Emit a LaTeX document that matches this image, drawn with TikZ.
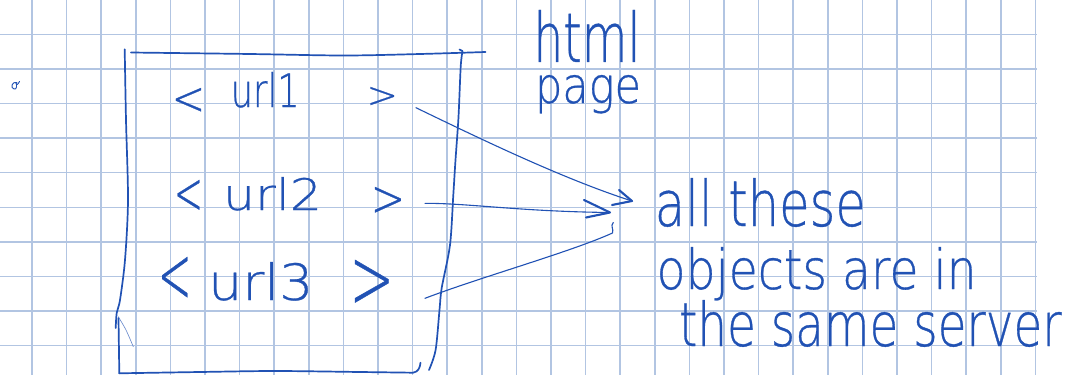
\documentclass[tikz,border=0pt]{standalone}
\usepackage{fontspec}
\usepackage{graphicx}
\usetikzlibrary{calc}
\newfontfamily\handfont[FakeBold=0.6]{DejaVu Sans ExtraLight}
\definecolor{ink}{RGB}{33,82,180}
\definecolor{gridblue}{RGB}{178,197,226}
% text squeezed to a given width and height (pt), in the pen colour
\newcommand{\handtext}[3]{\resizebox{#1pt}{#2pt}{\handfont #3}}

\begin{document}
\begin{tikzpicture}[x=1pt,y=-1pt,
  gridline/.style={draw=gridblue,line width=1.5pt},
  pen/.style={draw=ink,line width=1.7pt,line cap=round,line join=round},
  thinpen/.style={draw=ink,line width=1.1pt,line cap=round,line join=round},
  headpen/.style={draw=ink,line width=2.1pt,line cap=round,line join=round},
  word/.style={inner sep=0pt,outer sep=0pt,anchor=base west,text=ink}]

% paper
\fill[white] (0,0) rectangle (1072,375);
\useasboundingbox (0,0) rectangle (1072,375);

% squared grid
\foreach \i in {0,...,29}
  \draw[gridline] ({32+34.6*\i},0) -- ({32+34.6*\i},375);
\foreach \j in {0,...,9}
  \draw[gridline] (0,{34.3+34.6*\j}) -- (1037,{34.3+34.6*\j});

% stray pen mark
\draw[thinpen,line width=0.9pt] (17,82.5) .. controls (12,81) and (10,88) .. (14,89)
  .. controls (17,90) and (17,85) .. (16,83) .. controls (17,86) and (18,84) .. (19.5,81.5);

% the page frame
\draw[pen] plot[smooth] coordinates {(131,52.5) (250,54) (344,55.5) (420,54) (485.5,52)};
\draw[pen] (459.5,49.5) -- (462.5,51)
  plot[smooth] coordinates {(462.5,51) (460.7,66.7) (458.5,117) (455.5,160) (453.3,195)
    (450,245) (441.7,288) (439.5,310) (435.6,350) (429,370)};
\draw[pen] plot[smooth] coordinates {(124.7,49.3) (126,120) (128,200) (125,260)
  (120,300) (116.7,313) (115.7,328)};
\draw[pen] (118.5,318) -- (119.3,373.3);
\draw[thinpen,line width=0.6pt,draw=ink!70] plot[smooth] coordinates {(118.3,316.7) (126,330) (133.3,346.7)};
\draw[pen] plot[smooth] coordinates {(119.3,373.3) (200,372) (275,371) (360,372) (413,372.7)}
  .. controls (418,372) and (420,368) .. (420.5,362.7);

% the three links
\node[word] (lt1) at (171.7,114.4) {\handtext{33.5}{26.4}{<}};
\node[word] (u1)  at (230.7,107)   {\handtext{69}{35}{url1}};
\node[word] (gt1) at (366.6,107.4) {\handtext{31.3}{20.4}{>}};

\node[word] (lt2) at (173.9,213.6) {\handtext{29.1}{33.6}{<}};
\node[word] (u2)  at (223,210)     {\handtext{99}{33}{url2}};
\node[word] (gt2) at (370.7,215.8) {\handtext{34.5}{28.8}{>}};

\node[word] (lt3) at (157.9,302.6) {\handtext{33.7}{45.6}{<}};
\node[word] (u3)  at (208.3,300)   {\handtext{105}{38}{url3}};
\node[word] (gt3) at (349.5,308)   {\handtext{44.7}{48}{>}};

% captions
\node[word] (html) at (533.5,103) {\vbox{\offinterlineskip
  \hbox{\handtext{107}{52}{html}}\kern13pt
  \hbox{\hspace{1.5pt}\handtext{106}{28}{page}}}};

\node[word] (t1) at (654.8,226) {\handtext{211}{48}{all these}};
\node[word] (t2) at (656.6,289) {\handtext{320}{42}{objects are in}};
\node[word] (t3) at (679,346)   {\handtext{382.5}{46}{the same server}};

% connector ends
\coordinate (s1) at ($(gt1.base east)+(18,0.3)$);
\coordinate (s2) at ($(gt2.base east)+(19.8,-12.5)$);
\coordinate (s3) at ($(gt3.base east)+(30.8,-9.7)$);
\coordinate (e1) at ($(t1.base west)+(-22.8,-25)$);
\coordinate (e2) at ($(t1.base west)+(-44.8,-13.5)$);
\coordinate (e3) at ($(t1.base west)+(-42.3,7)$);

% connectors
\draw[thinpen] (s1) .. controls ($(s1)+(54,26)$) and ($(e1)+(-72,-23)$) .. (e1);
\draw[headpen] ($(e1)+(-13,-11)$) -- (e1) -- ($(e1)+(-20,4)$);

\draw[thinpen] (s2) .. controls ($(s2)+(45,0)$) and ($(e2)+(-90,-1)$) .. (e2);
\draw[headpen] ($(e2)+(-26,-12.5)$) -- (e2) -- ($(e2)+(-24,5)$);

\draw[thinpen] (s3) .. controls ($(s3)+(55,-21)$) and ($(e3)+(-42,19)$) .. (e3)
  .. controls ($(e3)+(1.5,-4)$) and ($(e3)+(-2.5,-7)$) .. ($(e3)+(0.8,-10.5)$);
\end{tikzpicture}
\end{document}
